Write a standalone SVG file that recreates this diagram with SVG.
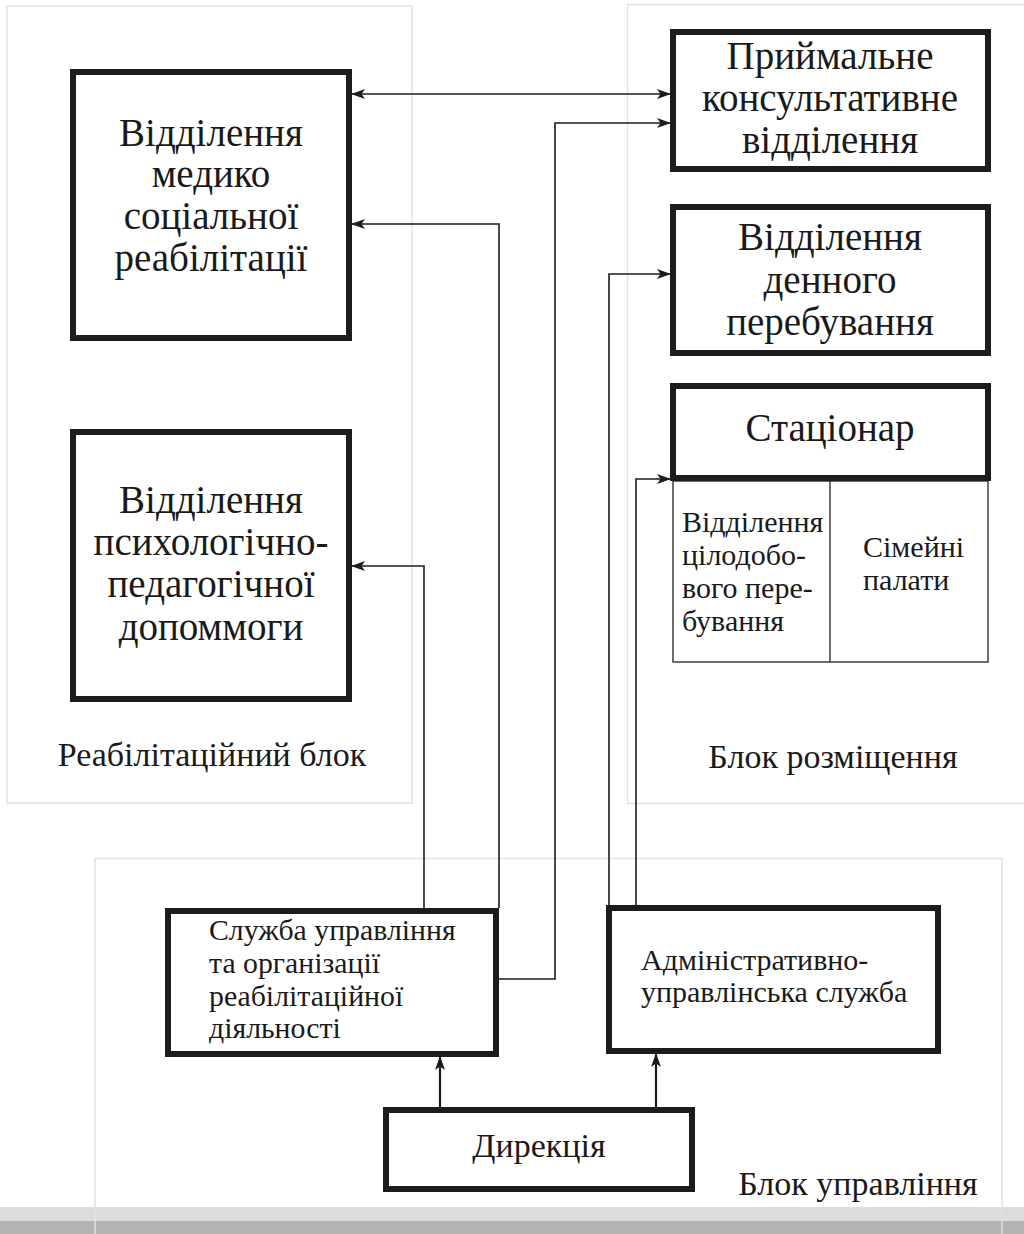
<svg xmlns="http://www.w3.org/2000/svg" width="1024" height="1234" viewBox="0 0 1024 1234">
<style>
.blk{fill:none;stroke:#e2e2e2;stroke-width:1.5}
.node{fill:#fff;stroke:#1c1c1c;stroke-width:6}
.thin{fill:none;stroke:#222;stroke-width:1.3}
.con{fill:none;stroke:#1c1c1c;stroke-width:1.6}
.con2{fill:none;stroke:#1c1c1c;stroke-width:2.2}
text{font-family:"Liberation Serif","Times New Roman",serif;fill:#1a1a1a}
.big{font-size:39px;text-anchor:middle}
.lbl{font-size:34px;text-anchor:middle}
.sm{font-size:30px}
.sl{font-size:29.8px}
</style>
<defs>
<marker id="ah" viewBox="0 0 14 10" refX="13" refY="5" markerWidth="14" markerHeight="10" markerUnits="userSpaceOnUse" orient="auto-start-reverse">
<path d="M0,0 L14,5 L0,10 L3.5,5 z" fill="#1c1c1c"/>
</marker>
</defs>
<rect width="1024" height="1234" fill="#fff"/>
<g id="bottom-bands">
<rect x="0" y="1207" width="1024" height="14" fill="#dcdcdc"/>
<rect x="0" y="1221" width="1024" height="13" fill="#b3b3b3"/>
</g>
<g id="block-rehab">
<rect class="blk" x="7" y="6" width="405" height="797"/>
<text class="lbl" x="212" y="766">Реабілітаційний блок</text>
</g>
<g id="block-placement">
<rect class="blk" x="627.5" y="4.5" width="420" height="799"/>
<text class="lbl" x="833" y="768">Блок розміщення</text>
</g>
<g id="block-management">
<path class="blk" d="M95,1234 V858.5 H1002 V1234"/>
<text class="lbl" x="858" y="1195">Блок управління</text>
</g>
<g id="connectors">
<path class="con" d="M352,94 H670" marker-start="url(#ah)" marker-end="url(#ah)"/>
<path class="con" d="M499,979 H555 V123 H670" marker-end="url(#ah)"/>
<path class="con" d="M499,908 V224 H352" marker-end="url(#ah)"/>
<path class="con" d="M424,908 V566 H352" marker-end="url(#ah)"/>
<path class="con" d="M609,905 V274 H670" marker-end="url(#ah)"/>
<path class="con" d="M636,905 V479 H670" marker-end="url(#ah)"/>
<path class="con2" d="M440,1107 V1057" marker-end="url(#ah)"/>
<path class="con2" d="M656,1107 V1054" marker-end="url(#ah)"/>
</g>
<g id="node-med">
<rect class="node" x="73" y="72" width="276" height="266"/>
<text class="big" x="211" y="146">Відділення</text>
<text class="big" x="211" y="187">медико</text>
<text class="big" x="211" y="229">соціальної</text>
<text class="big" x="211" y="271">реабілітації</text>
</g>
<g id="node-psy">
<rect class="node" x="73" y="432" width="276" height="267"/>
<text class="big" x="211" y="513">Відділення</text>
<text class="big" x="211" y="555">психологічно-</text>
<text class="big" x="211" y="597">педагогічної</text>
<text class="big" x="211" y="640">допоммоги</text>
</g>
<g id="node-reception">
<rect class="node" x="673" y="32" width="315" height="137"/>
<text class="big" x="830" y="69">Приймальне</text>
<text class="big" x="830" y="111">консультативне</text>
<text class="big" x="830" y="153">відділення</text>
</g>
<g id="node-day">
<rect class="node" x="673" y="207" width="315" height="146"/>
<text class="big" x="830" y="250">Відділення</text>
<text class="big" x="830" y="293">денного</text>
<text class="big" x="830" y="335">перебування</text>
</g>
<g id="node-sub">
<rect class="thin" x="673" y="481" width="315" height="181"/>
<path class="thin" d="M830,481 V662"/>
<text class="sm" x="682" y="532">Відділення</text>
<text class="sm" x="682" y="565">цілодобо-</text>
<text class="sm" x="682" y="598">вого пере-</text>
<text class="sm" x="682" y="631">бування</text>
<text class="sm" x="863" y="557">Сімейні</text>
<text class="sm" x="863" y="590">палати</text>
</g>
<g id="node-stationary">
<rect class="node" x="673" y="386" width="315" height="92"/>
<text class="big" x="830" y="441">Стаціонар</text>
</g>
<g id="node-service">
<rect class="node" x="168" y="911" width="328" height="143"/>
<text class="sl" x="209" y="940">Служба управління</text>
<text class="sl" x="209" y="973">та організації</text>
<text class="sl" x="209" y="1006">реабілітаційної</text>
<text class="sl" x="209" y="1038">діяльності</text>
</g>
<g id="node-admin">
<rect class="node" x="609" y="908" width="329" height="143"/>
<text class="sm" x="641" y="970">Адміністративно-</text>
<text class="sm" x="641" y="1002">управлінська служба</text>
</g>
<g id="node-direction">
<rect class="node" x="386" y="1110" width="306" height="79"/>
<text class="big" x="539" y="1157" style="font-size:34px">Дирекція</text>
</g>
</svg>
